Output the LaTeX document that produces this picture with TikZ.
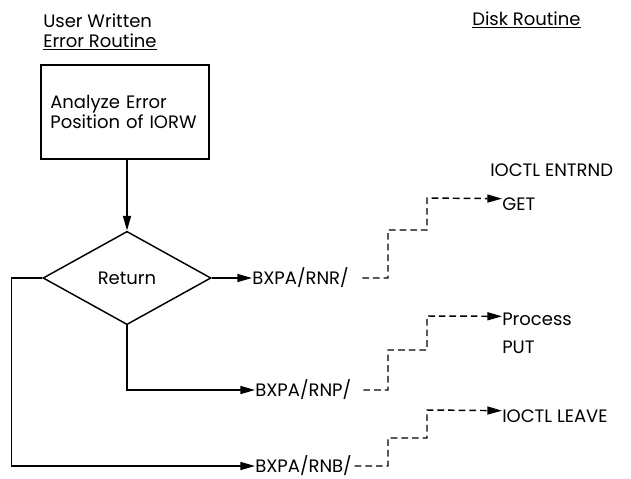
\documentclass[tikz,border=0pt]{standalone}
\usepackage{fontspec}
\setmainfont{Poppins}
\usetikzlibrary{arrows.meta, shapes.geometric, positioning}

\begin{document}
\begin{tikzpicture}[x=0.75pt, y=-0.75pt,
  lbl/.style={anchor=west, inner sep=0pt, font=\fontsize{13.5}{15}\selectfont},
  procbox/.style={draw, line width=1.1pt, minimum width=126pt, minimum height=70.5pt, align=left, text width=112pt, inner sep=0pt, font=\fontsize{13.5}{15}\selectfont},
  decide/.style={draw, diamond, line width=1.1pt, minimum width=126pt, minimum height=70pt, inner sep=0pt, font=\fontsize{13.5}{15}\selectfont},
  arr/.style={-{Triangle[length=11pt, width=6pt]}, line width=1.1pt},
  darr/.style={-{Triangle[length=11pt, width=6pt]}, line width=1.1pt, dash pattern=on 5pt off 3pt},
]
\useasboundingbox (0,0) rectangle (631,478);

% === Left side: user written error routine ===
\node[lbl] (hdr_user) at (43,21) {User Written};
\node[lbl] (hdr_err) at (43,42) {\underline{Error Routine}};

\node[procbox] (analyze) at (125,112) {Analyze Error\\Position of IORW\\[6pt]};

\node[decide] (ret) at (127,278) {Return};
\draw[arr] (analyze.south -| ret.north) -- (ret.north);

% exits of the return decision
\node[lbl] (rnr) at (252,278) {BXPA/RNR/};
\node[lbl] (rnp) at (255,390) {BXPA/RNP/};
\node[lbl] (rnb) at (255,466) {BXPA/RNB/};

\draw[arr] (ret.east) -- (rnr.west);
\draw[arr] (ret.south) |- (rnp.west);
\draw[arr] (ret.west) -- ++(-31,0) |- (rnb.west);

% === Right side: disk routine ===
\node[lbl] (hdr_disk) at (472,20) {\underline{Disk Routine}};

\node[lbl] (entrnd) at (490,170) {IOCTL ENTRND};
\node[lbl] (get) at (502,204) {GET};
\node[lbl] (proc) at (502,319) {Process};
\node[lbl] (put) at (502,347) {PUT};
\node[lbl] (leave) at (502,416) {IOCTL LEAVE};

% stepped dashed links
\draw[darr, shorten <=10pt] (rnr.east) -| (388,230) -| (427,198) -- ([yshift=4pt]get.west);
\draw[darr, shorten <=9pt] (rnp.east) -| (388,350) -| (427,316) -- ([yshift=2pt]proc.west);
\draw[darr, shorten <=2pt] (rnb.east) -| (388,438) -| (427,410) -- ([yshift=4pt]leave.west);
\end{tikzpicture}
\end{document}
